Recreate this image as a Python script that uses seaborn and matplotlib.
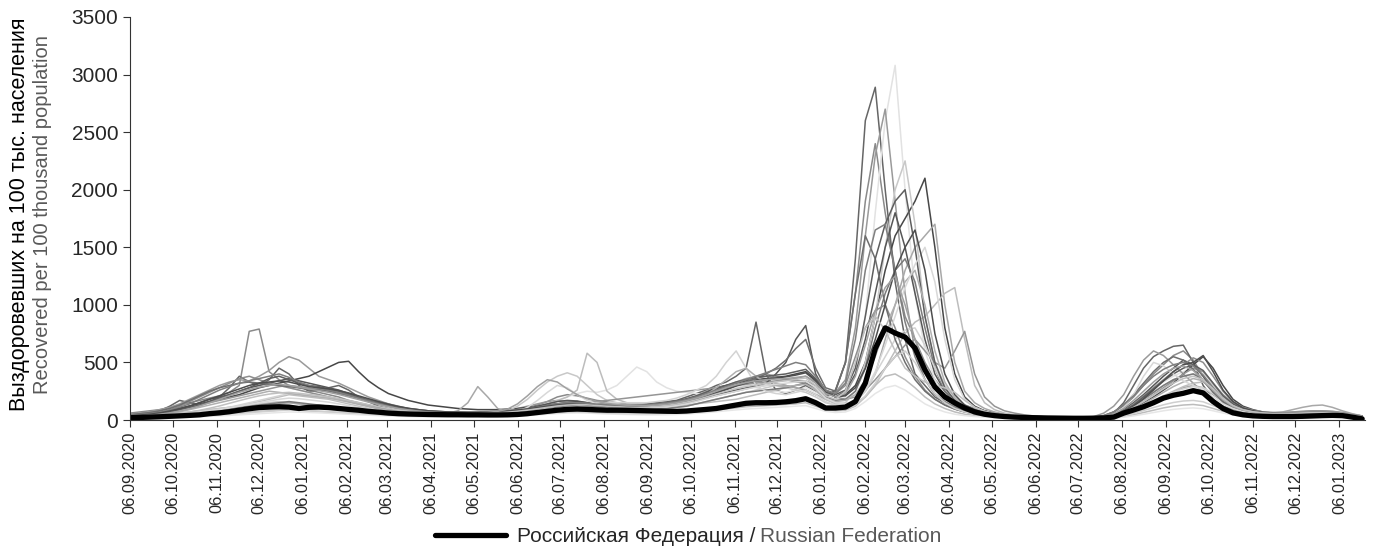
import matplotlib
matplotlib.use('Agg')
import matplotlib.pyplot as plt
import matplotlib.dates as mdates
from matplotlib.lines import Line2D
import numpy as np
import pandas as pd
import seaborn as sns

# weekly points, 06.09.2020 ... 22.01.2023
dates = pd.date_range('2020-09-06', periods=125, freq='7D')

# Российская Федерация
rf = [20, 22, 25, 28, 32, 36, 40, 45, 55, 62,
      72, 85, 98, 108, 112, 115, 112, 100, 110, 112,
      108, 100, 92, 85, 75, 68, 60, 55, 52, 50,
      48, 47, 46, 46, 45, 45, 44, 44, 45, 48,
      55, 65, 75, 85, 92, 95, 92, 88, 85, 85,
      84, 82, 80, 78, 76, 75, 78, 85, 92, 100,
      115, 130, 145, 150, 150, 152, 158, 168, 185, 150,
      104, 104, 112, 160, 320, 620, 800, 755, 720, 625,
      435, 287, 200, 148, 104, 70, 50, 38, 30, 25,
      22, 20, 18, 17, 16, 15, 15, 16, 18, 25,
      60, 87, 115, 150, 190, 215, 232, 255, 235, 160,
      100, 62, 45, 36, 32, 30, 30, 30, 32, 35,
      38, 40, 38, 25, 10]

# отдельные регионы (примерные кривые)
region_01 = [60, 70, 80, 90, 110, 130, 150, 170, 190, 210,
             240, 300, 770, 790, 420, 350, 300, 280, 260, 240,
             220, 200, 170, 150, 130, 110, 90, 80, 70, 65,
             60, 60, 55, 55, 55, 60, 60, 65, 70, 80,
             100, 130, 160, 200, 220, 210, 190, 170, 160, 150,
             140, 140, 130, 120, 120, 130, 150, 170, 200, 230,
             260, 300, 320, 330, 340, 320, 300, 280, 260, 220,
             200, 260, 500, 1100, 1900, 2400, 1800, 1300, 900, 700,
             500, 350, 250, 180, 130, 100, 80, 60, 45, 35,
             30, 28, 25, 22, 20, 20, 22, 25, 40, 70,
             120, 200, 300, 400, 480, 560, 600, 520, 380, 250,
             150, 100, 80, 70, 60, 55, 55, 60, 70, 80,
             80, 70, 60, 45, 30]
region_02 = [40, 50, 60, 80, 120, 170, 150, 130, 160, 200,
             280, 380, 330, 300, 350, 450, 400, 300, 250, 260,
             280, 300, 260, 200, 160, 120, 100, 80, 70, 60,
             55, 50, 50, 50, 50, 50, 55, 60, 60, 70,
             90, 110, 130, 140, 130, 120, 110, 100, 100, 110,
             120, 130, 140, 150, 160, 170, 200, 230, 260, 300,
             330, 380, 450, 850, 400, 260, 230, 260, 300, 250,
             200, 260, 500, 1400, 2600, 2890, 2000, 1200, 700, 400,
             300, 200, 150, 100, 80, 60, 50, 40, 35, 30,
             28, 25, 22, 20, 20, 20, 22, 25, 35, 60,
             150, 300, 450, 550, 600, 640, 650, 500, 300, 180,
             110, 80, 60, 50, 45, 45, 45, 50, 55, 60,
             60, 55, 50, 40, 30]
region_03 = [30, 35, 40, 50, 60, 80, 100, 120, 150, 180,
             200, 220, 260, 300, 320, 300, 280, 260, 240, 220,
             200, 180, 150, 120, 100, 80, 70, 60, 55, 50,
             45, 45, 40, 40, 40, 40, 45, 50, 55, 60,
             70, 90, 120, 160, 200, 230, 250, 240, 260, 300,
             380, 460, 420, 330, 280, 250, 240, 230, 220, 230,
             250, 280, 300, 280, 260, 250, 240, 260, 280, 240,
             180, 150, 200, 400, 900, 1800, 2600, 3080, 2000, 1100,
             600, 350, 200, 130, 90, 70, 55, 45, 35, 30,
             25, 22, 20, 18, 18, 18, 20, 22, 30, 50,
             90, 150, 220, 280, 330, 380, 420, 450, 400, 300,
             200, 130, 90, 70, 60, 55, 55, 60, 65, 70,
             70, 65, 55, 40, 25]
region_04 = [50, 60, 70, 90, 110, 140, 180, 220, 260, 300,
             330, 350, 340, 380, 430, 500, 550, 520, 450, 380,
             350, 320, 280, 240, 200, 170, 140, 110, 90, 80,
             70, 65, 60, 60, 60, 65, 70, 80, 90, 100,
             120, 140, 160, 170, 160, 150, 140, 130, 120, 110,
             110, 110, 120, 130, 140, 160, 180, 210, 250, 280,
             300, 330, 360, 380, 400, 380, 350, 330, 320, 260,
             220, 240, 350, 800, 1600, 2300, 2700, 1900, 1100, 600,
             350, 220, 150, 110, 80, 60, 50, 40, 35, 30,
             25, 22, 20, 20, 18, 18, 20, 30, 60, 120,
             220, 380, 520, 600, 560, 480, 400, 320, 240, 170,
             120, 90, 70, 60, 55, 55, 55, 55, 60, 65,
             65, 60, 55, 45, 35]
region_05 = [30, 40, 50, 60, 80, 100, 120, 140, 160, 180,
             200, 220, 250, 280, 300, 320, 340, 360, 380, 420,
             460, 500, 510, 420, 340, 280, 230, 200, 170, 150,
             130, 120, 110, 100, 95, 90, 90, 90, 95, 100,
             110, 120, 130, 140, 150, 160, 150, 140, 130, 120,
             110, 110, 120, 130, 140, 150, 170, 200, 240, 280,
             300, 320, 340, 350, 360, 370, 380, 400, 420, 350,
             250, 200, 220, 300, 500, 900, 1300, 1600, 1750, 1900,
             2100, 1500, 800, 400, 200, 120, 80, 60, 50, 40,
             35, 30, 28, 25, 22, 22, 22, 25, 30, 40,
             60, 100, 150, 200, 260, 320, 400, 480, 550, 450,
             300, 180, 120, 90, 70, 60, 55, 55, 60, 65,
             65, 60, 55, 45, 35]
region_06 = [20, 25, 30, 40, 50, 60, 70, 80, 90, 100,
             110, 120, 130, 140, 150, 160, 150, 140, 130, 120,
             110, 100, 90, 80, 70, 60, 55, 50, 45, 40,
             40, 40, 40, 40, 40, 45, 50, 60, 80, 120,
             180, 260, 330, 380, 410, 380, 300, 220, 170, 140,
             120, 110, 100, 100, 100, 110, 120, 140, 160, 180,
             200, 220, 240, 260, 280, 300, 280, 260, 240, 200,
             150, 130, 150, 250, 500, 900, 1500, 2000, 2250, 1700,
             900, 500, 300, 200, 130, 90, 60, 45, 35, 30,
             25, 20, 18, 15, 15, 15, 15, 18, 25, 40,
             70, 120, 180, 240, 300, 350, 380, 400, 380, 300,
             200, 130, 90, 70, 60, 50, 50, 50, 55, 60,
             60, 55, 50, 40, 30]
region_07 = [20, 20, 25, 30, 35, 40, 50, 60, 70, 80,
             90, 100, 110, 120, 130, 140, 150, 140, 130, 120,
             110, 100, 90, 80, 70, 65, 60, 55, 50, 50,
             50, 50, 60, 80, 150, 290, 200, 100, 70, 60,
             60, 65, 70, 80, 90, 100, 110, 120, 120, 110,
             100, 100, 100, 110, 120, 130, 150, 170, 190, 210,
             230, 250, 270, 290, 300, 310, 300, 280, 260, 220,
             180, 150, 140, 160, 250, 400, 700, 1000, 1300, 1500,
             1600, 1700, 1000, 500, 250, 150, 100, 70, 50, 40,
             30, 25, 22, 20, 18, 18, 18, 20, 25, 35,
             50, 80, 120, 160, 200, 240, 280, 300, 280, 220,
             160, 110, 80, 65, 60, 60, 70, 90, 110, 125,
             130, 110, 80, 55, 35]
region_08 = [25, 30, 35, 40, 50, 60, 70, 80, 90, 100,
             110, 120, 140, 160, 180, 200, 220, 210, 200, 190,
             180, 160, 140, 120, 100, 90, 80, 70, 60, 55,
             50, 50, 50, 50, 50, 55, 60, 70, 80, 90,
             100, 120, 140, 170, 200, 260, 580, 500, 250, 180,
             150, 140, 130, 120, 120, 120, 130, 140, 150, 160,
             170, 180, 200, 220, 240, 260, 280, 300, 320, 260,
             180, 140, 130, 150, 200, 300, 450, 600, 750, 850,
             900, 1000, 1100, 1150, 700, 300, 150, 90, 60, 45,
             35, 30, 25, 22, 20, 20, 20, 22, 28, 40,
             60, 90, 130, 170, 210, 250, 290, 320, 330, 280,
             200, 140, 100, 80, 70, 65, 65, 70, 75, 80,
             80, 75, 65, 50, 35]
region_09 = [40, 45, 50, 60, 70, 90, 110, 130, 150, 170,
             190, 210, 230, 250, 270, 290, 300, 290, 280, 270,
             260, 240, 220, 200, 180, 160, 140, 120, 100, 90,
             80, 75, 70, 70, 70, 70, 75, 80, 85, 90,
             95, 100, 110, 120, 130, 140, 150, 160, 170, 180,
             190, 200, 210, 220, 230, 240, 250, 260, 270, 280,
             290, 300, 310, 320, 330, 340, 350, 360, 380, 330,
             250, 200, 180, 200, 260, 350, 450, 550, 650, 700,
             600, 500, 450, 600, 770, 400, 200, 120, 80, 60,
             45, 35, 30, 25, 22, 20, 20, 22, 28, 40,
             70, 110, 160, 220, 280, 340, 400, 450, 420, 320,
             220, 150, 100, 80, 70, 65, 65, 70, 75, 80,
             80, 75, 65, 50, 35]
region_10 = [35, 40, 50, 60, 80, 100, 120, 150, 180, 200,
             220, 250, 280, 300, 320, 340, 360, 340, 320, 300,
             280, 260, 230, 200, 170, 150, 130, 110, 95, 85,
             75, 70, 65, 60, 60, 60, 65, 70, 75, 85,
             100, 120, 140, 160, 170, 165, 150, 140, 130, 125,
             120, 120, 125, 130, 140, 150, 160, 180, 200, 220,
             240, 260, 280, 300, 320, 400, 500, 700, 820, 400,
             250, 200, 250, 400, 700, 1100, 1500, 1800, 1500, 1100,
             700, 400, 250, 150, 100, 75, 55, 45, 38, 32,
             28, 25, 22, 20, 20, 20, 20, 22, 30, 50,
             90, 150, 220, 300, 380, 450, 520, 480, 380, 260,
             170, 110, 80, 65, 55, 50, 50, 55, 60, 65,
             65, 60, 50, 40, 30]
region_11 = [20, 25, 30, 35, 40, 50, 60, 70, 80, 90,
             100, 110, 120, 130, 140, 150, 160, 150, 140, 130,
             120, 110, 100, 90, 80, 70, 65, 60, 55, 50,
             50, 48, 46, 45, 45, 45, 45, 50, 55, 60,
             70, 80, 95, 110, 120, 125, 120, 110, 100, 95,
             90, 90, 90, 95, 100, 110, 120, 140, 160, 180,
             200, 220, 240, 250, 260, 270, 280, 300, 320, 280,
             200, 170, 180, 250, 450, 800, 1100, 1300, 1400, 1200,
             800, 450, 250, 150, 100, 70, 55, 45, 38, 32,
             28, 25, 22, 20, 18, 18, 18, 20, 25, 40,
             70, 120, 180, 240, 300, 350, 380, 400, 350, 250,
             160, 110, 80, 65, 55, 50, 50, 50, 55, 60,
             60, 55, 50, 40, 30]
region_12 = [25, 30, 35, 40, 45, 55, 65, 75, 85, 95,
             110, 130, 150, 170, 190, 210, 230, 220, 210, 200,
             190, 170, 150, 130, 110, 90, 80, 70, 60, 55,
             50, 48, 46, 45, 45, 45, 48, 50, 55, 60,
             70, 80, 90, 100, 110, 120, 130, 140, 150, 150,
             150, 150, 150, 160, 170, 190, 220, 260, 300, 380,
             500, 600, 450, 300, 250, 230, 220, 240, 260, 220,
             160, 130, 130, 160, 250, 400, 550, 700, 780, 800,
             650, 450, 280, 170, 110, 80, 60, 45, 35, 30,
             25, 22, 20, 18, 16, 15, 15, 16, 20, 30,
             50, 80, 120, 160, 200, 240, 270, 290, 280, 230,
             170, 120, 90, 70, 60, 55, 55, 55, 60, 65,
             65, 60, 55, 45, 30]
region_13 = [15, 18, 20, 25, 30, 35, 40, 45, 50, 55,
             60, 65, 70, 75, 80, 85, 90, 85, 80, 75,
             70, 65, 60, 55, 50, 45, 42, 40, 38, 36,
             35, 34, 33, 32, 32, 32, 33, 35, 38, 42,
             48, 55, 62, 70, 75, 78, 75, 70, 66, 62,
             60, 58, 56, 55, 55, 58, 62, 68, 75, 85,
             95, 105, 115, 120, 125, 130, 135, 140, 150, 120,
             90, 80, 85, 120, 200, 300, 380, 400, 350, 280,
             200, 140, 100, 70, 50, 40, 32, 26, 22, 18,
             15, 13, 12, 11, 10, 10, 10, 11, 14, 20,
             30, 45, 65, 85, 105, 120, 130, 135, 125, 100,
             75, 55, 42, 35, 30, 28, 28, 28, 30, 32,
             32, 30, 28, 22, 15]
region_14 = [50, 55, 60, 70, 90, 120, 160, 200, 240, 280,
             320, 360, 380, 350, 320, 300, 280, 260, 240, 220,
             200, 180, 160, 140, 120, 100, 90, 80, 70, 65,
             60, 58, 55, 55, 55, 58, 60, 65, 70, 75,
             85, 100, 120, 140, 150, 145, 135, 125, 120, 115,
             115, 115, 120, 130, 140, 150, 170, 200, 230, 260,
             280, 300, 330, 360, 380, 370, 350, 340, 340, 300,
             250, 230, 300, 550, 800, 950, 1000, 800, 550, 380,
             260, 180, 130, 95, 70, 55, 45, 38, 32, 28,
             25, 22, 20, 18, 17, 17, 17, 20, 28, 45,
             80, 140, 210, 280, 350, 420, 480, 540, 500, 380,
             250, 160, 110, 85, 70, 60, 58, 60, 65, 70,
             70, 65, 55, 45, 35]
region_15 = [10, 12, 14, 16, 18, 20, 24, 28, 32, 36,
             40, 45, 50, 55, 60, 65, 70, 68, 65, 62,
             58, 54, 50, 46, 42, 38, 35, 32, 30, 28,
             27, 26, 25, 25, 25, 25, 26, 28, 30, 33,
             38, 44, 50, 56, 60, 62, 60, 56, 52, 50,
             48, 46, 45, 45, 46, 48, 52, 58, 64, 72,
             80, 88, 95, 100, 105, 110, 115, 120, 125, 100,
             75, 65, 70, 100, 160, 230, 280, 300, 260, 200,
             140, 100, 70, 50, 38, 30, 25, 20, 17, 14,
             12, 10, 9, 8, 8, 8, 8, 9, 11, 16,
             24, 36, 50, 65, 80, 92, 100, 105, 98, 80,
             60, 45, 35, 28, 24, 22, 22, 22, 24, 26,
             26, 24, 22, 18, 12]
region_16 = [45, 55, 65, 80, 100, 130, 170, 210, 250, 280,
             300, 320, 330, 320, 310, 300, 290, 280, 270, 260,
             250, 230, 210, 190, 170, 150, 130, 115, 100, 90,
             80, 75, 70, 68, 66, 66, 68, 72, 78, 85,
             95, 110, 125, 140, 150, 150, 145, 140, 135, 130,
             125, 125, 130, 135, 140, 150, 165, 185, 210, 240,
             270, 300, 330, 360, 400, 450, 520, 620, 700, 450,
             280, 250, 500, 1100, 1600, 1400, 1000, 700, 500, 350,
             250, 180, 130, 95, 70, 55, 45, 38, 32, 28,
             25, 22, 20, 18, 17, 17, 18, 22, 35, 70,
             130, 220, 320, 420, 500, 550, 520, 440, 340, 240,
             160, 110, 80, 65, 55, 50, 50, 52, 58, 62,
             62, 58, 50, 40, 30]
region_17 = [30, 35, 45, 55, 70, 90, 110, 130, 160, 190,
             220, 250, 280, 320, 360, 380, 350, 320, 300, 290,
             270, 250, 220, 190, 160, 140, 120, 100, 90, 80,
             70, 65, 60, 60, 60, 60, 65, 70, 75, 80,
             90, 100, 115, 130, 140, 140, 135, 130, 125, 120,
             120, 125, 130, 140, 150, 165, 185, 210, 240, 270,
             300, 330, 350, 370, 380, 390, 400, 420, 440, 360,
             260, 220, 260, 450, 900, 1400, 1700, 1900, 2000, 1500,
             900, 500, 280, 170, 110, 80, 60, 48, 40, 34,
             30, 27, 24, 22, 20, 20, 20, 22, 28, 45,
             80, 130, 200, 270, 340, 400, 450, 480, 430, 320,
             210, 140, 95, 75, 62, 55, 52, 55, 60, 64,
             64, 60, 52, 42, 32]
region_18 = [25, 30, 35, 45, 55, 70, 90, 110, 130, 150,
             170, 190, 210, 230, 250, 240, 230, 220, 210, 200,
             190, 175, 160, 140, 120, 100, 85, 72, 62, 55,
             50, 48, 46, 45, 45, 46, 48, 52, 56, 62,
             70, 80, 90, 100, 110, 115, 112, 105, 100, 98,
             96, 96, 100, 110, 120, 135, 155, 180, 220, 280,
             350, 420, 450, 380, 320, 300, 290, 300, 310, 260,
             190, 160, 170, 220, 350, 550, 800, 1000, 1200, 1300,
             1000, 600, 330, 190, 120, 85, 62, 48, 38, 32,
             27, 24, 21, 19, 17, 17, 17, 19, 24, 36,
             60, 95, 140, 190, 240, 290, 330, 360, 340, 260,
             180, 120, 88, 70, 60, 55, 55, 56, 60, 64,
             64, 60, 54, 42, 30]
region_19 = [18, 20, 24, 28, 34, 42, 52, 64, 76, 90,
             105, 120, 135, 150, 165, 180, 190, 185, 175, 165,
             155, 140, 125, 110, 95, 82, 72, 64, 57, 52,
             48, 46, 44, 43, 43, 44, 46, 50, 58, 75,
             110, 170, 240, 300, 280, 220, 170, 140, 125, 115,
             110, 108, 108, 110, 115, 125, 140, 160, 185, 210,
             230, 250, 270, 285, 300, 310, 320, 330, 340, 280,
             190, 150, 140, 170, 260, 420, 650, 900, 1150, 1350,
             1500, 1200, 700, 350, 180, 110, 75, 55, 42, 34,
             28, 24, 21, 19, 17, 16, 16, 18, 26, 50,
             110, 220, 380, 500, 470, 400, 340, 300, 260, 200,
             140, 100, 75, 62, 54, 50, 50, 52, 56, 60,
             60, 56, 50, 40, 28]
region_20 = [40, 45, 55, 65, 85, 110, 140, 180, 220, 260,
             290, 320, 340, 360, 380, 400, 370, 330, 300, 280,
             260, 240, 215, 190, 165, 140, 120, 100, 88, 78,
             70, 66, 62, 60, 60, 62, 65, 70, 76, 84,
             95, 110, 125, 140, 150, 150, 145, 138, 132, 128,
             125, 125, 130, 138, 148, 160, 178, 200, 230, 260,
             290, 320, 350, 380, 410, 440, 470, 500, 480, 380,
             260, 230, 320, 700, 1300, 1650, 1700, 1300, 850, 550,
             350, 230, 160, 115, 85, 65, 52, 42, 35, 30,
             26, 23, 21, 19, 18, 18, 19, 24, 38, 70,
             130, 210, 300, 380, 440, 480, 500, 470, 390, 280,
             180, 120, 88, 70, 60, 55, 54, 56, 60, 64,
             64, 60, 52, 42, 30]
region_21 = [12, 14, 16, 19, 22, 26, 30, 35, 40, 46,
             52, 58, 64, 70, 76, 82, 88, 85, 80, 76,
             72, 67, 62, 57, 52, 47, 43, 40, 37, 35,
             33, 32, 31, 30, 30, 31, 32, 34, 37, 41,
             46, 52, 58, 64, 68, 70, 68, 64, 60, 58,
             56, 55, 55, 56, 58, 62, 68, 75, 84, 95,
             106, 118, 130, 140, 150, 160, 170, 180, 190, 150,
             105, 90, 95, 130, 210, 320, 450, 550, 600, 500,
             350, 230, 150, 100, 70, 52, 40, 32, 26, 21,
             18, 15, 13, 12, 11, 11, 11, 12, 16, 24,
             38, 58, 82, 108, 132, 152, 165, 170, 158, 125,
             92, 68, 52, 42, 36, 33, 32, 32, 34, 36,
             36, 34, 31, 25, 17]
region_22 = [35, 42, 50, 62, 78, 98, 122, 150, 180, 210,
             240, 270, 300, 320, 330, 340, 330, 310, 290, 280,
             270, 255, 235, 210, 185, 160, 138, 118, 102, 90,
             80, 74, 70, 68, 66, 66, 68, 72, 78, 86,
             96, 108, 120, 130, 136, 136, 132, 126, 122, 118,
             116, 116, 120, 126, 134, 145, 160, 180, 205, 235,
             265, 295, 320, 340, 355, 365, 375, 390, 410, 340,
             240, 200, 210, 280, 450, 700, 1000, 1300, 1500, 1650,
             1300, 750, 400, 220, 130, 90, 66, 52, 42, 35,
             30, 26, 23, 21, 19, 19, 19, 21, 27, 42,
             72, 120, 185, 260, 340, 420, 480, 500, 560, 420,
             260, 160, 105, 80, 66, 58, 55, 56, 60, 64,
             64, 60, 52, 42, 32]
region_23 = [30, 35, 42, 50, 62, 78, 98, 122, 150, 180,
             210, 240, 265, 285, 300, 310, 300, 285, 270, 255,
             240, 222, 200, 178, 155, 135, 116, 100, 88, 78,
             70, 65, 62, 60, 60, 62, 66, 75, 95, 140,
             210, 290, 350, 330, 270, 220, 185, 160, 145, 135,
             128, 125, 125, 130, 138, 150, 168, 190, 218, 250,
             280, 305, 325, 340, 350, 355, 360, 370, 380, 320,
             230, 200, 230, 380, 650, 950, 1150, 1250, 1000, 700,
             450, 290, 190, 130, 92, 70, 55, 44, 36, 31,
             27, 24, 21, 19, 18, 18, 18, 21, 30, 55,
             100, 170, 250, 330, 400, 450, 470, 430, 350, 260,
             175, 118, 86, 70, 60, 55, 54, 56, 60, 64,
             64, 60, 52, 42, 30]
region_24 = [22, 26, 30, 36, 44, 55, 68, 84, 102, 122,
             145, 168, 190, 210, 225, 235, 240, 232, 222, 212,
             200, 186, 170, 152, 134, 116, 100, 87, 76, 68,
             62, 58, 55, 54, 54, 55, 58, 62, 68, 76,
             86, 98, 110, 122, 130, 134, 132, 126, 120, 116,
             112, 110, 112, 118, 126, 138, 155, 176, 200, 226,
             250, 272, 290, 305, 318, 330, 340, 352, 365, 300,
             210, 180, 250, 500, 800, 900, 780, 600, 450, 380,
             330, 300, 280, 240, 170, 110, 75, 55, 42, 34,
             28, 24, 21, 19, 17, 17, 17, 19, 25, 40,
             68, 110, 160, 215, 270, 320, 360, 380, 350, 270,
             185, 125, 90, 72, 62, 56, 55, 56, 60, 64,
             64, 60, 52, 42, 30]

regions = [region_01, region_02, region_03, region_04, region_05, region_06,
           region_07, region_08, region_09, region_10, region_11, region_12,
           region_13, region_14, region_15, region_16, region_17, region_18,
           region_19, region_20, region_21, region_22, region_23, region_24]
region_names = ['region_%02d' % (i + 1) for i in range(len(regions))]
greys = ['#8a8a8a', '#666666', '#e2e2e2', '#9a9a9a', '#474747', '#c8c8c8',
         '#a8a8a8', '#bdbdbd', '#959595', '#565656', '#7a7a7a', '#d3d3d3',
         '#bcbcbc', '#8e8e8e', '#e6e6e6', '#6e6e6e', '#5e5e5e', '#b0b0b0',
         '#d8d8d8', '#7f7f7f', '#cfcfcf', '#4d4d4d', '#a0a0a0', '#c0c0c0']

df = pd.concat([pd.DataFrame({'date': dates, 'value': v, 'region': n})
                for n, v in zip(region_names, regions)], ignore_index=True)
df_rf = pd.DataFrame({'date': dates, 'value': rf})

sns.set_style('ticks')
plt.rcParams['font.family'] = ['Liberation Sans', 'DejaVu Sans']

fig = plt.figure(figsize=(13.75, 5.5), dpi=100)
ax = fig.add_axes([130 / 1375, 1 - 420 / 550, 1235 / 1375, 403 / 550])

sns.lineplot(data=df, x='date', y='value', hue='region', hue_order=region_names,
             palette=dict(zip(region_names, greys)), linewidth=1.1, legend=False, ax=ax)
sns.lineplot(data=df_rf, x='date', y='value', color='black', linewidth=3.8, ax=ax)

ax.set_ylim(0, 3500)
ax.set_yticks(np.arange(0, 3501, 500))
ax.set_xlim(pd.Timestamp('2020-09-06'), pd.Timestamp('2023-01-24'))
ax.xaxis.set_major_locator(mdates.MonthLocator(bymonthday=6))
ax.xaxis.set_major_formatter(mdates.DateFormatter('%d.%m.%Y'))
ax.tick_params(axis='x', labelrotation=90, labelsize=11.8, length=5, color='#333333')
ax.tick_params(axis='y', labelsize=15, length=5, color='#333333')
ax.set_xlabel('')
ax.set_ylabel('')
for s in ['top', 'right']:
    ax.spines[s].set_visible(False)
for s in ['left', 'bottom']:
    ax.spines[s].set_color('#333333')

# подпись оси Y в две строки разного цвета
fig.text(20 / 1375, 0.61, 'Выздоровевших на 100 тыс. населения', rotation=90,
         ha='center', va='center', fontsize=15.5, color='black')
fig.text(43 / 1375, 0.61, 'Recovered per 100 thousand population', rotation=90,
         ha='center', va='center', fontsize=14.5, color='#595959')

# легенда
h = Line2D([], [], color='black', linewidth=3.8)
leg = fig.legend([h], ['Российская Федерация /'], loc='center left',
                 bbox_to_anchor=(425 / 1375, 13 / 550), frameon=False,
                 fontsize=15, handlelength=3.4, handletextpad=0.5, borderpad=0)
fig.canvas.draw()
bb = leg.get_texts()[0].get_window_extent()
fig.text((bb.x1 + 5) / 1375, 13 / 550, 'Russian Federation', ha='left', va='center',
         fontsize=15, color='#595959')

fig.savefig('out.png', dpi=100)
